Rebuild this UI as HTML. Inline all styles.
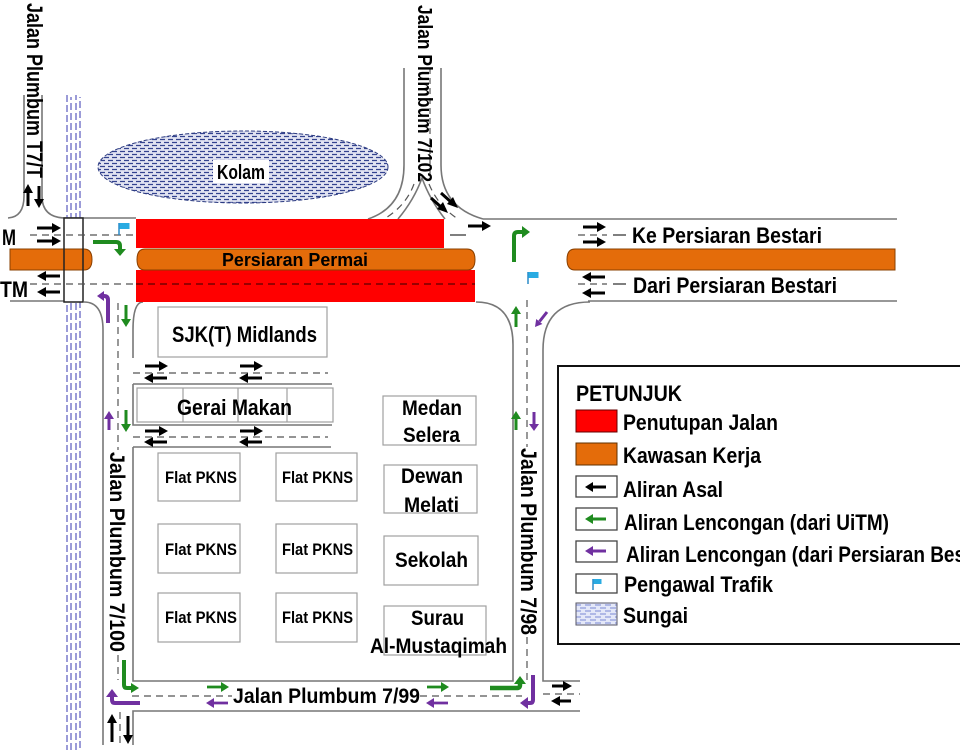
<!DOCTYPE html>
<html><head><meta charset="utf-8">
<style>
html,body{margin:0;padding:0;background:#fff;}
svg{display:block;}
text{font-family:"Liberation Sans Narrow","Liberation Sans",Arial,sans-serif;font-weight:bold;fill:#000;}
</style></head><body>
<svg width="960" height="750" viewBox="0 0 960 750" xmlns="http://www.w3.org/2000/svg">
<defs>
<pattern id="pk" width="8" height="6" patternUnits="userSpaceOnUse">
<rect width="8" height="6" fill="#e2e4f2"/>
<path d="M0,1.5 H5 M4,4.5 H8 M0,4.5 H1" stroke="#34438f" stroke-width="1.3"/>
</pattern>
<pattern id="ps" width="10" height="6" patternUnits="userSpaceOnUse">
<rect width="10" height="6" fill="#e4e8f8"/>
<path d="M0,2 H6 M5,5 H10 M0,5 H1" stroke="#7a88d4" stroke-width="1"/>
</pattern>
</defs>
<rect width="960" height="750" fill="#fff"/>

<!-- river -->
<g stroke="#7272c8" stroke-width="1.4" stroke-dasharray="7 3" fill="none">
<line x1="67" y1="95" x2="67" y2="750"/>
<line x1="71" y1="97" x2="71" y2="750" stroke-dashoffset="4"/>
<line x1="76" y1="95" x2="76" y2="750" stroke-dashoffset="2"/>
<line x1="80" y1="97" x2="80" y2="750" stroke-dashoffset="6"/>
</g>

<!-- pond -->
<ellipse cx="243" cy="167" rx="145" ry="36" fill="url(#pk)" stroke="#2b3a80" stroke-width="1" stroke-dasharray="4 2"/>
<rect x="213" y="160" width="56" height="23" fill="#fff"/>
<text x="217" y="179" font-size="20" textLength="48" lengthAdjust="spacingAndGlyphs">Kolam</text>

<!-- road edges -->
<g stroke="#777" stroke-width="1.6" fill="none">
<path d="M24,95 L24,196 Q24,217 8,218"/>
<path d="M42,95 L42,196 Q42,217 64,218"/>
<path d="M64,218 L136,218"/>
<path d="M10,301 L64,301"/>
<path d="M404,68 L404,165 Q404,207 368,219"/>
<path d="M441,68 L441,165 Q441,207 483,219"/>
<path d="M398,219 Q414,200 422,178 Q430,200 445,219"/>
<path d="M483,219 L897,219"/>
<path d="M590,302 Q543,302 543,350 L543,681 L580,681"/>
<path d="M897,301 L588,301"/>
<path d="M133,447 L133,681 L513,681 L513,345 Q513,302 476,302"/>
<path d="M133,745 L133,711 L580,711"/>
<path d="M84,302 Q103,302 103,330 L103,745"/>
<path d="M143,302 Q133,302 133,330 L133,358"/>
<path d="M133,384 L332,384 M133,384 L133,425 L332,425 M133,447 L331,447"/>
</g>

<!-- bridge -->
<rect x="64" y="218" width="19" height="84" fill="#fff"/>
<path d="M10,249 H84 Q92,249 92,259.5 Q92,270 84,270 H10 Z" fill="#e46c0a" stroke="#8a4000" stroke-width="1"/>
<rect x="64" y="218" width="19" height="84" fill="none" stroke="#222" stroke-width="1.5"/>

<!-- closures -->
<rect x="136" y="219" width="308" height="29" fill="#ff0000"/>
<rect x="136" y="270" width="339" height="32" fill="#ff0000"/>
<path d="M145,249 H467 Q475,249 475,259.5 Q475,270 467,270 H145 Q137,270 137,259.5 Q137,249 145,249 Z" fill="#e46c0a" stroke="#8a4000" stroke-width="1"/>
<path d="M575,249 H895 V270 H575 Q567,270 567,259.5 Q567,249 575,249 Z" fill="#e46c0a" stroke="#8a4000" stroke-width="1"/>
<text x="222" y="266" font-size="18" textLength="146" lengthAdjust="spacingAndGlyphs">Persiaran Permai</text>

<!-- dashed lines -->
<g stroke="#555" stroke-width="1.2" stroke-dasharray="7 5" fill="none">
<path d="M30,235 L136,235"/>
<path d="M30,284 L136,284"/>
<path d="M578,235 L607,235 M578,284 L607,284"/>
<path d="M133,373 L328,373 M133,437 L328,437"/>
<path d="M118,303 L118,450 M118,655 L118,680"/>
<path d="M132,696 L232,696 M420,696 L522,696 M543,694 L580,694"/>
<path d="M527,300 L527,447 M527,637 L527,680"/>
<path d="M120,712 L120,745"/>
<path d="M414,184 Q406,206 384,219"/>
<path d="M429,184 Q438,206 458,219"/>
<path d="M430,68 L430,180" stroke-dasharray="6 4"/>
</g>
<path d="M136,284 L475,284" stroke="#5a0000" stroke-width="1.2" stroke-dasharray="7 5"/>
<path d="M450,235 L466,235 M613,235 L626,235 M613,284 L626,284" stroke="#333" stroke-width="1.3"/>

<!-- buildings -->
<g fill="#fff" stroke="#a0a0a0" stroke-width="1.2">
<rect x="158" y="307" width="169" height="50"/>
<rect x="137" y="388" width="196" height="34"/>
<path d="M183,388 V422 M238,388 V422 M287,388 V422" fill="none"/>
<rect x="158" y="453" width="82" height="48"/>
<rect x="276" y="453" width="81" height="48"/>
<rect x="158" y="524" width="82" height="49"/>
<rect x="276" y="524" width="81" height="49"/>
<rect x="158" y="593" width="82" height="49"/>
<rect x="276" y="593" width="81" height="49"/>
<rect x="383" y="396" width="93" height="49"/>
<rect x="384" y="465" width="93" height="48"/>
<rect x="384" y="536" width="94" height="49"/>
<rect x="384" y="606" width="102" height="49"/>
</g>

<text x="172" y="342" font-size="22" textLength="145" lengthAdjust="spacingAndGlyphs">SJK(T) Midlands</text>
<text x="177" y="415" font-size="22" textLength="115" lengthAdjust="spacingAndGlyphs">Gerai Makan</text>
<g font-size="17">
<text x="165" y="483" textLength="72" lengthAdjust="spacingAndGlyphs">Flat PKNS</text>
<text x="282" y="483" textLength="71" lengthAdjust="spacingAndGlyphs">Flat PKNS</text>
<text x="165" y="555" textLength="72" lengthAdjust="spacingAndGlyphs">Flat PKNS</text>
<text x="282" y="555" textLength="71" lengthAdjust="spacingAndGlyphs">Flat PKNS</text>
<text x="165" y="623" textLength="72" lengthAdjust="spacingAndGlyphs">Flat PKNS</text>
<text x="282" y="623" textLength="71" lengthAdjust="spacingAndGlyphs">Flat PKNS</text>
</g>
<g font-size="21">
<text x="402" y="415" textLength="60" lengthAdjust="spacingAndGlyphs">Medan</text>
<text x="403" y="442" textLength="57" lengthAdjust="spacingAndGlyphs">Selera</text>
<text x="401" y="483" textLength="62" lengthAdjust="spacingAndGlyphs">Dewan</text>
<text x="404" y="512" textLength="55" lengthAdjust="spacingAndGlyphs">Melati</text>
<text x="395" y="567" textLength="73" lengthAdjust="spacingAndGlyphs">Sekolah</text>
<text x="411" y="625" textLength="53" lengthAdjust="spacingAndGlyphs">Surau</text>
<text x="370" y="653" textLength="137" lengthAdjust="spacingAndGlyphs">Al-Mustaqimah</text>
<text x="233" y="703" textLength="187" lengthAdjust="spacingAndGlyphs">Jalan Plumbum 7/99</text>
</g>
<g font-size="22">
<text x="632" y="243" textLength="190" lengthAdjust="spacingAndGlyphs">Ke Persiaran Bestari</text>
<text x="633" y="293" textLength="204" lengthAdjust="spacingAndGlyphs">Dari Persiaran Bestari</text>
<text x="2" y="245" textLength="14" lengthAdjust="spacingAndGlyphs">M</text>
<text x="0" y="297" textLength="28" lengthAdjust="spacingAndGlyphs">TM</text>
</g>

<!-- rotated labels -->
<text transform="translate(27,3) rotate(90)" font-size="22" textLength="175" lengthAdjust="spacingAndGlyphs">Jalan Plumbum T7/T</text>
<text transform="translate(418,5) rotate(90)" font-size="20" textLength="177" lengthAdjust="spacingAndGlyphs">Jalan Plumbum 7/102</text>
<text transform="translate(110,452) rotate(90)" font-size="21" textLength="200" lengthAdjust="spacingAndGlyphs">Jalan Plumbum 7/100</text>
<text transform="translate(521,448) rotate(90)" font-size="22" textLength="187" lengthAdjust="spacingAndGlyphs">Jalan Plumbum 7/98</text>

<!-- black arrows -->
<g stroke="#000" stroke-width="3" fill="none">
<path d="M37,228 H53 M37,241 H53 M60,276 H45 M60,292 H45"/>
<path d="M28,206 V193 M39,186 V199"/>
<path d="M468,226 H483"/>
<path d="M431,198 L441,207 M441,193 L451,202"/>
<path d="M583,227 H598 M583,242 H598 M605,277 H590 M605,293 H590"/>
<path d="M145,366 H160 M167,378 H152 M240,366 H255 M262,378 H247"/>
<path d="M145,431 H160 M167,442 H152 M240,431 H255 M262,442 H247"/>
<path d="M112,742 V722 M128,716 V736"/>
<path d="M552,686 H564 M571,701 H559"/>
</g>
<g fill="#000">
<polygon points="61,228 52,223 52,233"/><polygon points="61,241 52,236 52,246"/>
<polygon points="37,276 46,271 46,281"/><polygon points="37,292 46,287 46,297"/>
<polygon points="28,184 23,193 33,193"/><polygon points="39,208 34,199 44,199"/>
<polygon points="491,226 482,221 482,231"/>
<polygon points="448,213 437,209 443,202"/><polygon points="458,208 447,204 453,197"/>
<polygon points="606,227 597,222 597,232"/><polygon points="606,242 597,237 597,247"/>
<polygon points="582,277 591,272 591,282"/><polygon points="582,293 591,288 591,298"/>
<polygon points="168,366 159,361 159,371"/><polygon points="144,378 153,373 153,383"/>
<polygon points="263,366 254,361 254,371"/><polygon points="239,378 248,373 248,383"/>
<polygon points="168,431 159,426 159,436"/><polygon points="144,442 153,437 153,447"/>
<polygon points="263,431 254,426 254,436"/><polygon points="239,442 248,437 248,447"/>
<polygon points="112,714 107,723 117,723"/><polygon points="128,744 123,735 133,735"/>
<polygon points="572,686 563,681 563,691"/><polygon points="551,701 560,696 560,706"/>
</g>

<!-- green arrows -->
<g stroke="#1f8b1f" stroke-width="4" fill="none">
<path d="M93,242 L116,242 Q120,242 120,246 L120,249"/>
<path d="M126,305 V320 M126,410 V425" stroke-width="3"/>
<path d="M514,262 L514,236 Q514,232 518,232 L522,232"/>
<path d="M516,327 V313 M516,430 V418" stroke-width="3"/>
<path d="M124,660 L124,685 Q124,688 127,688 L131,688"/>
<path d="M207,687 H222 M427,687 H442" stroke-width="2.8"/>
<path d="M490,688 L517,688 Q520,688 520,685 L520,684" stroke-width="4.5"/>
</g>
<g fill="#1f8b1f">
<polygon points="114,249 126,249 120,256"/>
<polygon points="126,327 121,319 131,319"/><polygon points="126,432 121,424 131,424"/>
<polygon points="530,232 522,226 522,238"/>
<polygon points="516,306 511,314 521,314"/><polygon points="516,411 511,419 521,419"/>
<polygon points="139,688 131,683 131,693"/>
<polygon points="229,687 221,682 221,692"/><polygon points="449,687 441,682 441,692"/>
<polygon points="520,676 514,684 526,684"/>
</g>

<!-- purple arrows -->
<g stroke="#7030a0" stroke-width="4" fill="none">
<path d="M108,323 L108,300 Q108,296 104,296 L103,296"/>
<path d="M547,312 L539.5,321.5" stroke-width="3"/>
<path d="M534,412 V424 M109,430 V418" stroke-width="3"/>
<path d="M140,703 L115,703 Q112,703 112,700 L112,697"/>
<path d="M228,703 H213 M448,703 H433" stroke-width="2.8"/>
<path d="M533,675 L533,700 Q533,703 530,703 L528,703"/>
</g>
<g fill="#7030a0">
<polygon points="97,296 104,291 104,301"/>
<polygon points="535,327 542.4,324 536.2,319"/>
<polygon points="534,431 529,424 539,424"/>
<polygon points="109,411 104,419 114,419"/>
<polygon points="112,689 106,697 118,697"/>
<polygon points="206,703 214,698 214,708"/><polygon points="426,703 434,698 434,708"/>
<polygon points="520,703 528,697 528,709"/>
</g>

<!-- flags -->
<g>
<line x1="119" y1="223" x2="119" y2="235" stroke="#2a8ac8" stroke-width="1.5"/>
<rect x="119.5" y="223" width="10" height="6" fill="#29abe2"/>
<line x1="528" y1="272" x2="528" y2="284" stroke="#2a8ac8" stroke-width="1.5"/>
<rect x="528.5" y="272" width="10" height="6" fill="#29abe2"/>
</g>

<!-- legend -->
<rect x="558" y="366" width="420" height="278" fill="#fff" stroke="#111" stroke-width="2"/>
<rect x="576" y="410" width="41" height="22" fill="#ff0000" stroke="#600" stroke-width="1"/>
<rect x="576" y="443" width="41" height="22" fill="#e46c0a" stroke="#603000" stroke-width="1"/>
<rect x="576" y="476" width="41" height="21" fill="#fff" stroke="#444" stroke-width="1.3"/>
<rect x="576" y="508" width="41" height="22" fill="#fff" stroke="#444" stroke-width="1.3"/>
<rect x="576" y="541" width="41" height="21" fill="#fff" stroke="#444" stroke-width="1.3"/>
<rect x="576" y="574" width="41" height="19" fill="#fff" stroke="#444" stroke-width="1.3"/>
<rect x="576" y="603" width="41" height="22" fill="url(#ps)" stroke="#556" stroke-width="1"/>
<path d="M606,487 H592" stroke="#000" stroke-width="3"/><polygon points="585,487 593,482 593,492" fill="#000"/>
<path d="M606,519 H592" stroke="#1f8b1f" stroke-width="3"/><polygon points="585,519 593,514 593,524" fill="#1f8b1f"/>
<path d="M606,551 H592" stroke="#7030a0" stroke-width="3"/><polygon points="585,551 593,546 593,556" fill="#7030a0"/>
<line x1="593" y1="579" x2="593" y2="590" stroke="#2a8ac8" stroke-width="1.5"/>
<rect x="593.5" y="579" width="8" height="5" fill="#29abe2"/>
<g font-size="22">
<text x="576" y="401" textLength="106" lengthAdjust="spacingAndGlyphs">PETUNJUK</text>
<text x="623" y="430" textLength="155" lengthAdjust="spacingAndGlyphs">Penutupan Jalan</text>
<text x="623" y="463" textLength="138" lengthAdjust="spacingAndGlyphs">Kawasan Kerja</text>
<text x="623" y="497" textLength="100" lengthAdjust="spacingAndGlyphs">Aliran Asal</text>
<text x="624" y="530" textLength="265" lengthAdjust="spacingAndGlyphs">Aliran Lencongan (dari UiTM)</text>
<text x="626" y="562" textLength="375" lengthAdjust="spacingAndGlyphs">Aliran Lencongan (dari Persiaran Bestari)</text>
<text x="624" y="592" textLength="149" lengthAdjust="spacingAndGlyphs">Pengawal Trafik</text>
<text x="623" y="623" textLength="65" lengthAdjust="spacingAndGlyphs">Sungai</text>
</g>
</svg>
</body></html>
